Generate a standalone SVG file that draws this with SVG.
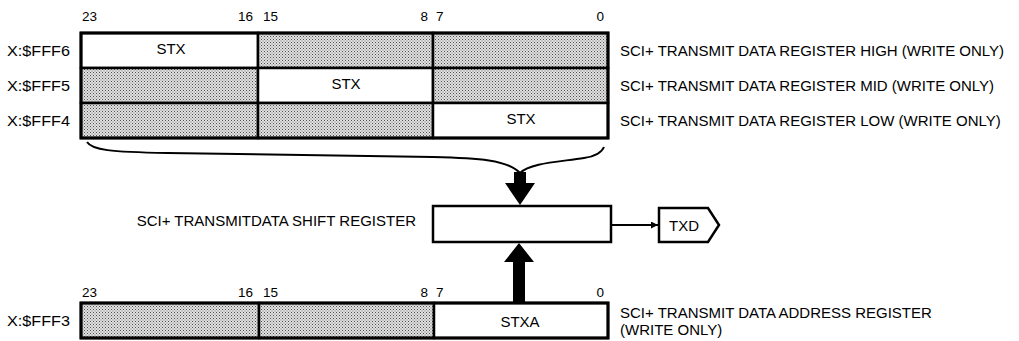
<svg xmlns="http://www.w3.org/2000/svg" width="1019" height="341" viewBox="0 0 1019 341">
<defs>
<pattern id="dots" width="3" height="3" patternUnits="userSpaceOnUse">
<rect width="3" height="3" fill="#e0e0e0"/>
<rect width="1" height="1" fill="#505050"/>
<rect x="1.5" y="1.5" width="1" height="1" fill="#707070"/>
</pattern>
<marker id="ah" viewBox="0 0 10 10" refX="10" refY="5" markerWidth="10" markerHeight="7" markerUnits="userSpaceOnUse" orient="auto">
<path d="M0,0 L10,5 L0,10 Z" fill="#000"/>
</marker>
</defs>
<style>
text{font-family:"Liberation Sans",Arial,sans-serif;fill:#000}
.lbl{font-size:15px}
.bit{font-size:13.5px}
.end{text-anchor:end}
.mid{text-anchor:middle}
.sh{fill:url(#dots)}
.wh{fill:#fff}
.cell{stroke:#000;stroke-width:2.5}
.outer{fill:none;stroke:#000;stroke-width:3}
.ln{fill:none;stroke:#000;stroke-width:2}
</style>
<rect width="1019" height="341" fill="#fff"/>

<g id="bit-numbers-top">
<text class="bit" x="82" y="21">23</text>
<text class="bit end" x="253" y="21">16</text>
<text class="bit" x="263" y="21">15</text>
<text class="bit end" x="428" y="21">8</text>
<text class="bit" x="436" y="21">7</text>
<text class="bit end" x="604" y="21">0</text>
</g>

<g id="reg-high">
<text class="lbl" x="7" y="56" textLength="63" lengthAdjust="spacingAndGlyphs">X:$FFF6</text>
<rect class="wh cell" x="81" y="33" width="177" height="35"/>
<rect class="sh cell" x="258" y="33" width="175" height="35"/>
<rect class="sh cell" x="433" y="33" width="175" height="35"/>
<text class="lbl mid" x="171" y="54">STX</text>
<text class="lbl" x="620" y="56">SCI+ TRANSMIT DATA REGISTER HIGH (WRITE ONLY)</text>
</g>

<g id="reg-mid">
<text class="lbl" x="7" y="91" textLength="63" lengthAdjust="spacingAndGlyphs">X:$FFF5</text>
<rect class="sh cell" x="81" y="68" width="177" height="35"/>
<rect class="wh cell" x="258" y="68" width="175" height="35"/>
<rect class="sh cell" x="433" y="68" width="175" height="35"/>
<text class="lbl mid" x="346" y="89">STX</text>
<text class="lbl" x="620" y="91">SCI+ TRANSMIT DATA REGISTER MID (WRITE ONLY)</text>
</g>

<g id="reg-low">
<text class="lbl" x="7" y="126" textLength="63" lengthAdjust="spacingAndGlyphs">X:$FFF4</text>
<rect class="sh cell" x="81" y="103" width="177" height="35"/>
<rect class="sh cell" x="258" y="103" width="175" height="35"/>
<rect class="wh cell" x="433" y="103" width="175" height="35"/>
<text class="lbl mid" x="521" y="124">STX</text>
<text class="lbl" x="620" y="126">SCI+ TRANSMIT DATA REGISTER LOW (WRITE ONLY)</text>
</g>
<rect class="outer" x="81" y="33" width="527" height="105"/>

<g id="shift-register">
<text class="lbl end" x="416" y="226">SCI+ TRANSMITDATA SHIFT REGISTER</text>
<rect x="433" y="206" width="178" height="36" fill="#fff" stroke="#000" stroke-width="2.5"/>
</g>

<g id="txd">
<path d="M659,208 L708,208 L719,225 L708,242 L659,242 Z" fill="#fff" stroke="#000" stroke-width="2.5"/>
<text class="lbl mid" x="684" y="231">TXD</text>
</g>

<g id="bit-numbers-bottom">
<text class="bit" x="82" y="297">23</text>
<text class="bit end" x="253" y="297">16</text>
<text class="bit" x="263" y="297">15</text>
<text class="bit end" x="428" y="297">8</text>
<text class="bit" x="436" y="297">7</text>
<text class="bit end" x="604" y="297">0</text>
</g>

<g id="stxa-register">
<text class="lbl" x="7" y="326" textLength="63" lengthAdjust="spacingAndGlyphs">X:$FFF3</text>
<rect class="sh cell" x="81" y="303" width="178" height="35"/>
<rect class="sh cell" x="259" y="303" width="175" height="35"/>
<rect class="wh cell" x="434" y="303" width="174" height="35"/>
<rect class="outer" x="81" y="303" width="527" height="35"/>
<text class="lbl mid" x="520" y="327">STXA</text>
<text class="lbl" x="620" y="318">SCI+ TRANSMIT DATA ADDRESS REGISTER</text>
<text class="lbl" x="620" y="335">(WRITE ONLY)</text>
</g>

<g id="connectors">
<path class="ln" d="M87,142 C92,150 110,152 167,153 L433,157 C478,158 508,160 520,173 C530,163 558,162 584,158 C597,156 602,152 604,147"/>
<polygon points="514,172 526,172 526,183 535,183 520,205 505,183 514,183" fill="#000"/>
<polygon points="513,302 525,302 525,262 534,262 519,243 504,262 513,262" fill="#000"/>
<line class="ln" x1="611" y1="225" x2="658" y2="225" marker-end="url(#ah)"/>
</g>
</svg>
